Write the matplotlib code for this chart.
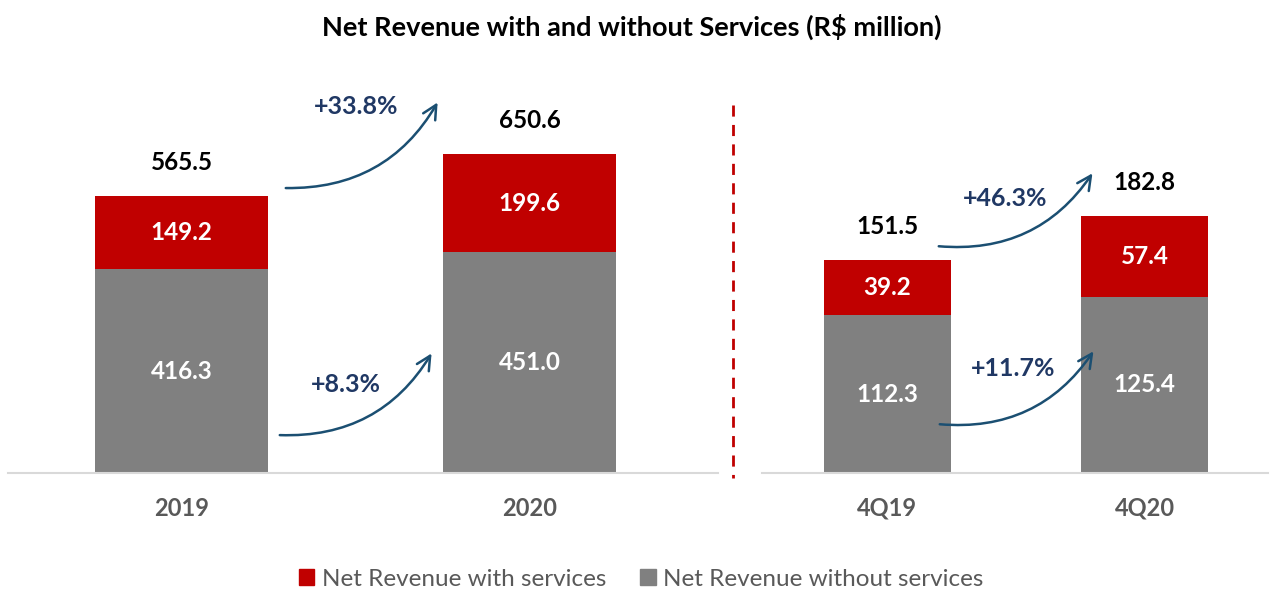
import matplotlib
matplotlib.use("Agg")
import matplotlib.pyplot as plt
from matplotlib.patches import FancyArrowPatch, Patch

# ---- data ----
annual_labels = ["2019", "2020"]
annual_without = [416.3, 451.0]
annual_with = [149.2, 199.6]
annual_total = [565.5, 650.6]
annual_growth = ["+33.8%", "+8.3%"]   # total, without services

quarter_labels = ["4Q19", "4Q20"]
quarter_without = [112.3, 125.4]
quarter_with = [39.2, 57.4]
quarter_total = [151.5, 182.8]
quarter_growth = ["+46.3%", "+11.7%"]

title = "Net Revenue with and without Services (R$ million)"
legend_labels = ["Net Revenue with services", "Net Revenue without services"]

RED = "#C00000"
GRAY = "#808080"
NAVY = "#203864"
ARROW = "#1B4F72"
TXTGRAY = "#595959"
FONT = "Lato"

plt.rcParams["font.family"] = [FONT, "DejaVu Sans"]

W, H = 1271, 590
fig = plt.figure(figsize=(W / 100, H / 100), dpi=100)


def px_axes(x0, x1, y0, y1):
    return fig.add_axes([x0 / W, 1 - y1 / H, (x1 - x0) / W, (y1 - y0) / H])


def draw_panel(ax, labels, without, withs, totals, width, xlim, ylim):
    x = list(range(len(labels)))
    ax.bar(x, without, width=width, color=GRAY, zorder=2)
    ax.bar(x, withs, width=width, bottom=without, color=RED, zorder=2)
    ax.set_xlim(*xlim)
    ax.set_ylim(*ylim)
    for s in ["top", "right", "left"]:
        ax.spines[s].set_visible(False)
    ax.spines["bottom"].set_color("#D9D9D9")
    ax.spines["bottom"].set_linewidth(1.5)
    ax.set_yticks([])
    ax.set_xticks(x)
    ax.set_xticklabels(labels, fontsize=17, fontweight="bold", color=TXTGRAY)
    ax.tick_params(axis="x", length=0, pad=17)
    for xi, wo, wi, t in zip(x, without, withs, totals):
        ax.text(xi, wo / 2, f"{wo:.1f}", ha="center", va="center",
                color="white", fontsize=17.5, fontweight="bold")
        ax.text(xi, wo + wi / 2, f"{wi:.1f}", ha="center", va="center",
                color="white", fontsize=17.5, fontweight="bold")
        ax.annotate(f"{t:.1f}", (xi, t), xytext=(0, 24), textcoords="offset points",
                    ha="center", va="center", color="black", fontsize=17.5,
                    fontweight="bold")


axL = px_axes(8, 718, 60, 473)
draw_panel(axL, annual_labels, annual_without, annual_with, annual_total,
           0.496, (-0.498, 1.54), (0, 843))
axR = px_axes(762, 1268, 60, 473)
draw_panel(axR, quarter_labels, quarter_without, quarter_with, quarter_total,
           0.494, (-0.488, 1.48), (0, 293.7))


def fig_arrow(x0, y0, x1, y1):
    a = FancyArrowPatch((x0 / W, 1 - y0 / H), (x1 / W, 1 - y1 / H),
                        transform=fig.transFigure,
                        connectionstyle="arc3,rad=0.3",
                        arrowstyle="->,head_length=10,head_width=5",
                        color=ARROW, lw=1.8, zorder=5,
                        capstyle="round", joinstyle="round")
    fig.add_artist(a)


def fig_label(x, y, s, **kw):
    fig.text(x / W, 1 - y / H, s, **kw)


# growth arrows
fig_arrow(283, 188, 439, 100)
fig_arrow(277, 435, 433, 351)
fig_arrow(936, 246, 1094, 171)
fig_arrow(937, 424, 1095, 349)

gkw = dict(ha="center", va="center", color=NAVY, fontsize=18, fontweight="bold")
fig_label(356, 106, annual_growth[0], **gkw)
fig_label(346, 384, annual_growth[1], **gkw)
fig_label(1005, 198, quarter_growth[0], **gkw)
fig_label(1013, 368, quarter_growth[1], **gkw)

# separator
fig.add_artist(plt.Line2D([733 / W, 733 / W], [1 - 105 / H, 1 - 478 / H],
                          transform=fig.transFigure, color=RED, lw=2,
                          linestyle=(0, (4, 3))))

# title
fig_label(632, 27, title, ha="center", va="center", fontsize=19.5,
          fontweight="bold", color="black")

# legend
handles = [Patch(color=RED), Patch(color=GRAY)]
fig.legend(handles, legend_labels, loc="center", bbox_to_anchor=(641 / W, 1 - 579 / H),
           ncol=2, frameon=False, fontsize=17.5, handlelength=0.65, handleheight=0.65,
           handletextpad=0.3, columnspacing=1.4, labelcolor=TXTGRAY)

fig.savefig("out.png", dpi=100)
